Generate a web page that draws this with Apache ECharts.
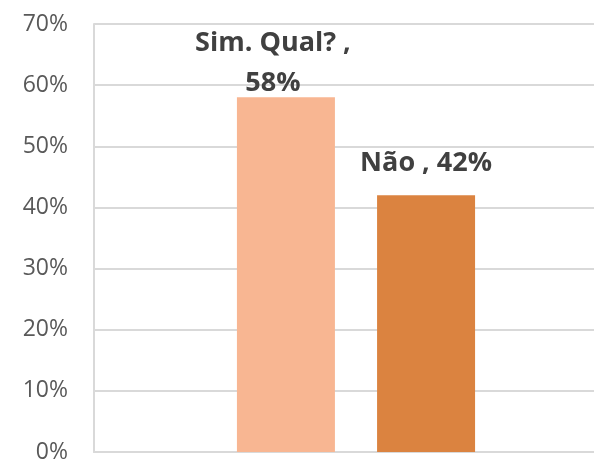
<!DOCTYPE html>
<html><head><meta charset="utf-8">
<script src="https://cdn.jsdelivr.net/npm/echarts@6/dist/echarts.min.js"></script>
<style>html,body{margin:0;padding:0;background:#fff}#c{width:594px;height:461px}</style>
</head><body><div id="c"></div>
<script>
const categories = [''];
const seriesNames = ['Sim. Qual? ', 'Não '];
const seriesValues = [58, 42];
const yTicks = [0, 10, 20, 30, 40, 50, 60, 70];
const colors = ['#F8B692', '#DB8340'];

const chart = echarts.init(document.getElementById('c'));
const labelOffsets = [[-13, 6], [0, -12]];
chart.setOption({
  animation: false,
  grid: { left: 94, right: -24, top: 24, bottom: 9, containLabel: false, outerBoundsMode: 'none' },
  xAxis: {
    type: 'category', data: categories,
    axisLine: { show: true, lineStyle: { color: '#D9D9D9', width: 2 } },
    axisTick: { show: false }, axisLabel: { show: false }
  },
  yAxis: {
    type: 'value', min: yTicks[0], max: yTicks[yTicks.length - 1], interval: 10,
    axisLine: { show: true, lineStyle: { color: '#D9D9D9', width: 2 } },
    axisTick: { show: false },
    splitLine: { lineStyle: { color: '#D9D9D9', width: 2 } },
    axisLabel: { formatter: v => v + '%', color: '#595959', fontSize: 23, fontFamily: 'Open Sans', margin: 26 }
  },
  series: seriesNames.map((n, i) => ({
    type: 'bar', name: n, data: [seriesValues[i]],
    barWidth: 98, barGap: '43%',
    itemStyle: { color: colors[i] },
    label: {
      show: true, position: 'top', distance: 0,
      offset: labelOffsets[i],
      formatter: i === 0 ? (n + ',\n' + seriesValues[i] + '%') : (n + ', ' + seriesValues[i] + '%'),
      color: '#404040', fontWeight: 'bold', fontSize: 27, fontFamily: 'Open Sans', lineHeight: 40
    }
  }))
});
</script></body></html>
